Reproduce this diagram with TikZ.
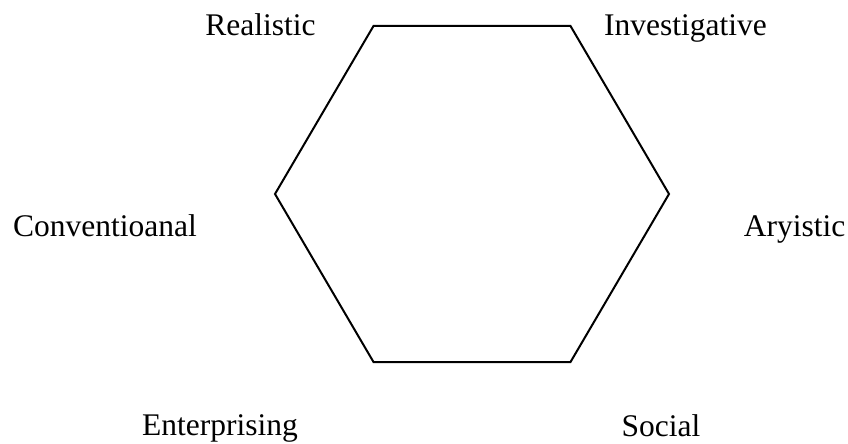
\documentclass[tikz,border=0pt]{standalone}
\usepackage{fontspec}
\setmainfont{Liberation Serif}
\usepackage{tikz}
\usetikzlibrary{positioning}

\begin{document}
\begin{tikzpicture}[x=1pt, y=1pt,
    typelabel/.style={anchor=base, inner sep=0pt, font=\fontsize{31.5}{36}\selectfont}]
    \useasboundingbox (0,0) rectangle (848,444);

    % 六边形顶点
    \foreach \k in {0,1,2,3,4,5} {
        \pgfmathsetmacro{\angle}{60*\k}
        \coordinate (v\k) at ([shift={(472,250)}]\angle:197 and 194);
    }

    % 六边形
    \draw[line width=2pt, line join=miter] (v0) -- (v1) -- (v2) -- (v3) -- (v4) -- (v5) -- cycle;

    % 六种类型
    \node[typelabel] (realistic) at (260.5,408) {Realistic};
    \node[typelabel] (investigative) at (685.5,408) {Investigative};
    \node[typelabel] (conventional) at (105,207) {Conventioanal};
    \node[typelabel] (artistic) at (794.5,207) {Aryistic};
    \node[typelabel] (enterprising) at (220,8) {Enterprising};
    \node[typelabel] (social) at (661,7) {Social};
\end{tikzpicture}
\end{document}
